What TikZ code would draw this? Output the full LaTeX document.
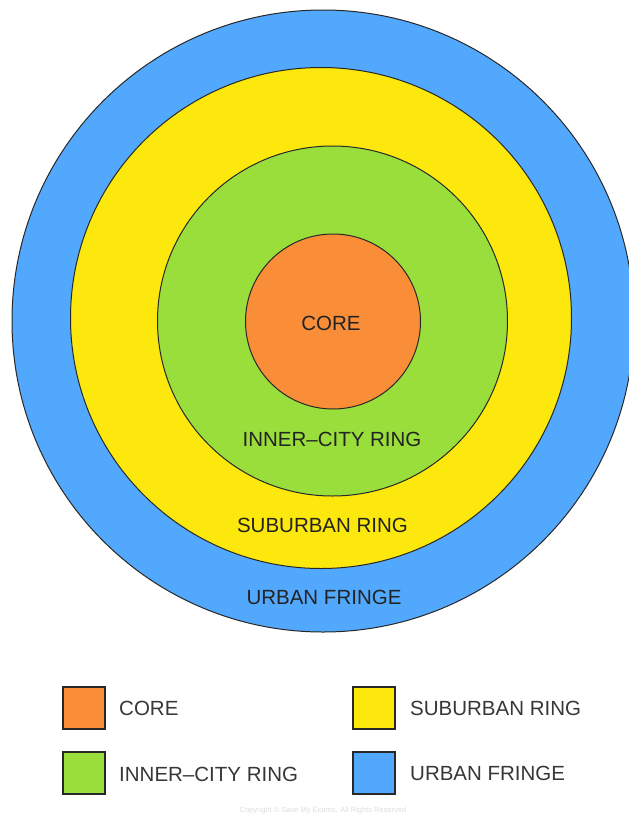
\documentclass[tikz,border=0pt]{standalone}
\usepackage{fontspec}
\setmainfont{Liberation Sans}
\definecolor{cfringe}{RGB}{82,168,252}
\definecolor{csub}{RGB}{252,232,12}
\definecolor{cinner}{RGB}{154,222,60}
\definecolor{ccore}{RGB}{250,142,56}
\definecolor{cline}{RGB}{40,40,40}
\definecolor{ctext}{RGB}{35,35,35}
\definecolor{clegtext}{RGB}{55,55,55}
\begin{document}
\begin{tikzpicture}[x=1pt,y=-1pt,
  ring/.style={circle,draw=cline,line width=1pt,inner sep=0pt},
  ringlabel/.style={text=ctext,font=\fontsize{20.5}{24}\selectfont,inner sep=0pt},
  legbox/.style={rectangle,draw=cline,line width=1.4pt,minimum width=42pt,minimum height=42pt,inner sep=0pt},
  legtext/.style={text=clegtext,font=\fontsize{20.5}{24}\selectfont,anchor=west,inner sep=0pt}]
\useasboundingbox (0,0) rectangle (629,815);
\clip (0,0) rectangle (629,815);
\fill[white] (0,0) rectangle (629,815);
% rings
\node[ring,fill=cfringe,minimum size=622pt] (fringe) at (323,321) {};
\node[ring,fill=csub,minimum size=501pt] (suburban) at (321,318) {};
\node[ring,fill=cinner,minimum size=350pt] (inner) at (332.5,321) {};
\node[ring,fill=ccore,minimum size=175pt] (core) at (333,321.5) {};
% ring labels
\node[ringlabel] (coreL) at (331,323) {CORE};
\node[ringlabel] (innerL) at (332,439) {INNER–CITY RING};
\node[ringlabel] (subL) at (322.5,525) {SUBURBAN RING};
\node[ringlabel] (fringeL) at (324,597) {URBAN FRINGE};
% legend
\node[legbox,fill=ccore] (lcore) at (84,708) {};
\node[legbox,fill=cinner] (linner) at (84,773) {};
\node[legbox,fill=csub] (lsub) at (374,708) {};
\node[legbox,fill=cfringe] (lfringe) at (374,773) {};
\node[legtext] (tcore) at (119,708) {CORE};
\node[legtext] (tinner) at (119,774) {INNER–CITY RING};
\node[legtext] (tsub) at (410,708) {SUBURBAN RING};
\node[legtext] (tfringe) at (410,773) {URBAN FRINGE};
% copyright
\node[text=black!13,font=\fontsize{7.5}{9}\selectfont,inner sep=0pt] (copy) at (323,811) {Copyright © Save My Exams. All Rights Reserved};
\end{tikzpicture}
\end{document}
